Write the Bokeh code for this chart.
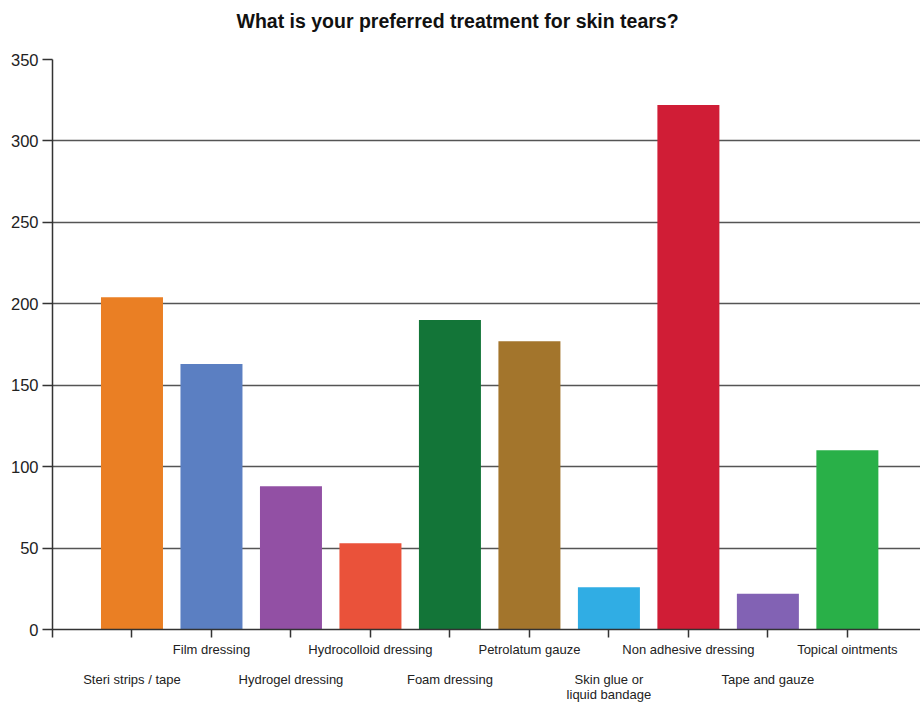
from bokeh.plotting import figure
from bokeh.models import Range1d, FixedTicker, ColumnDataSource, Title
from bokeh.embed import file_html
from bokeh.resources import INLINE

# Survey answers: preferred treatment for skin tears
chart_title = "What is your preferred treatment for skin tears?"
treatments = [
    "Steri strips / tape",
    "Film dressing",
    "Hydrogel dressing",
    "Hydrocolloid dressing",
    "Foam dressing",
    "Petrolatum gauze",
    "Skin glue or\nliquid bandage",
    "Non adhesive dressing",
    "Tape and gauze",
    "Topical ointments",
]
responses = [204, 163, 88, 53, 190, 177, 26, 322, 22, 110]
bar_colors = [
    "#ea7f24", "#5b7fc2", "#9250a4", "#ea523a", "#137538",
    "#a3752c", "#30ade4", "#d01d36", "#8262b4", "#29b048",
]
y_ticks = [0, 50, 100, 150, 200, 250, 300, 350]

positions = list(range(1, len(treatments) + 1))

p = figure(
    width=920, height=704,
    x_range=Range1d(0, 10.92), y_range=Range1d(0, 350),
    output_backend="svg", toolbar_location=None,
    min_border_left=52, min_border_right=0,
    min_border_top=59, min_border_bottom=75,
)
p.outline_line_color = None
p.background_fill_color = "white"
p.border_fill_color = "white"

# Empty spacer keeps the heading clear of the plot area
p.add_layout(Title(text=" ", text_font_size="23.5px", standoff=0), "above")
# Heading centred on the whole canvas rather than the plot area
p.add_layout(Title(
    text=chart_title, align="left", standoff=0, offset=184,
    text_font="Liberation Sans", text_font_size="19.5px",
    text_font_style="bold", text_color="#111111",
), "above")

src = ColumnDataSource(dict(x=positions, top=responses, color=bar_colors))
p.vbar(x="x", top="top", bottom=0, width=0.78, fill_color="color",
       line_color=None, source=src)

# Horizontal grid only
p.xgrid.grid_line_color = None
p.ygrid.grid_line_color = "#555555"
p.ygrid.grid_line_width = 1.5
p.ygrid.ticker = FixedTicker(ticks=y_ticks)

# Y axis
p.yaxis.ticker = FixedTicker(ticks=y_ticks)
p.yaxis.minor_tick_line_color = None
p.yaxis.major_tick_in = 0
p.yaxis.major_tick_out = 10
p.yaxis.major_label_standoff = 4
p.yaxis.axis_line_color = "#333333"
p.yaxis.axis_line_width = 1.5
p.yaxis.major_tick_line_color = "#333333"
p.yaxis.major_tick_line_width = 1.5
p.yaxis.major_label_text_font = "Liberation Sans"
p.yaxis.major_label_text_font_size = "16.5px"
p.yaxis.major_label_text_color = "#222222"

# X axis: labels alternate between two rows
labels = {0: ""}
for i, name in enumerate(treatments):
    labels[i + 1] = name if i % 2 == 1 else "\n\n" + name
p.xaxis.ticker = FixedTicker(ticks=[0] + positions)
p.xaxis.major_label_overrides = labels
p.xaxis.minor_tick_line_color = None
p.xaxis.major_tick_in = 0
p.xaxis.major_tick_out = 8
p.xaxis.major_label_standoff = 4
p.xaxis.axis_line_color = "#333333"
p.xaxis.axis_line_width = 1.5
p.xaxis.major_tick_line_color = "#333333"
p.xaxis.major_tick_line_width = 1.5
p.xaxis.major_label_text_font = "Liberation Sans"
p.xaxis.major_label_text_font_size = "13px"
p.xaxis.major_label_text_line_height = 1.0
p.xaxis.major_label_text_color = "#222222"

open("out.html", "w").write(file_html(p, INLINE))
